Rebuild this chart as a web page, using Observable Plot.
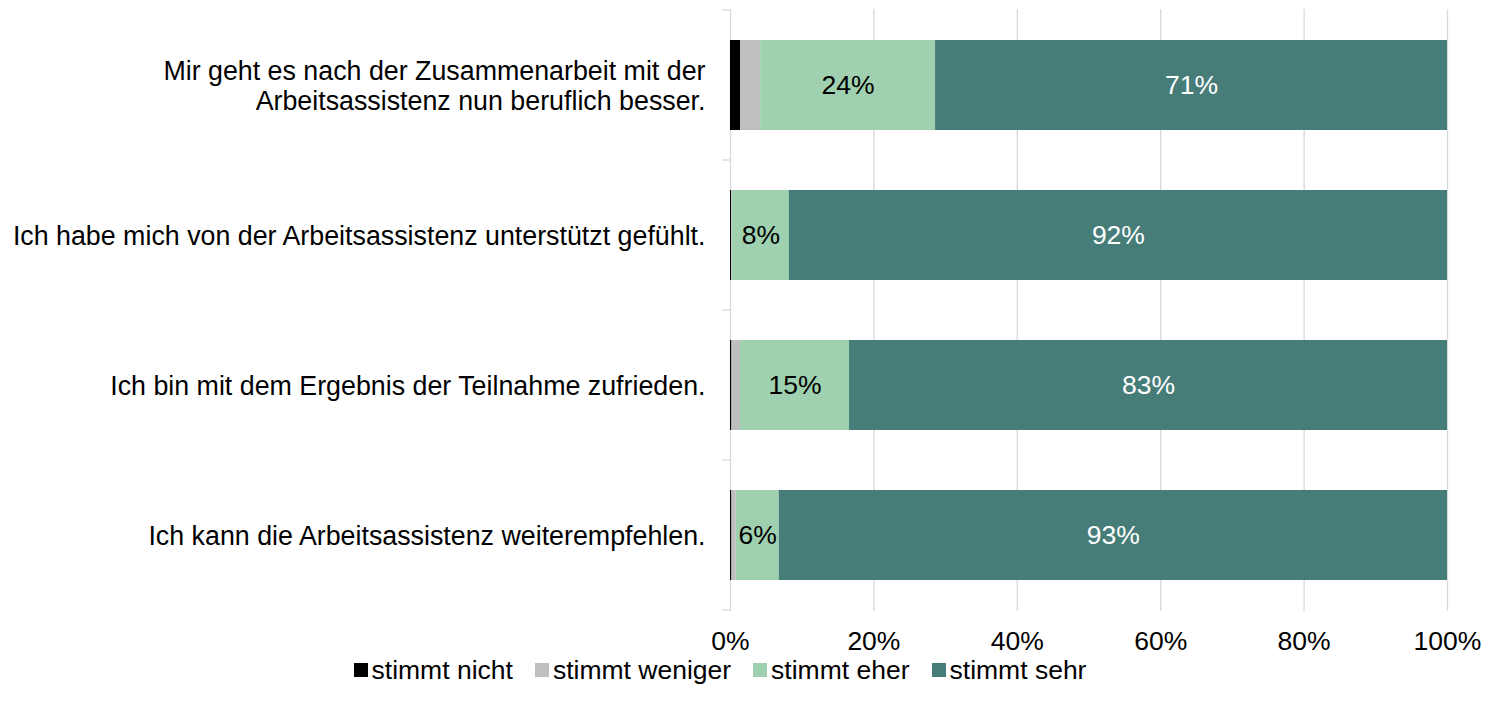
<!DOCTYPE html>
<html><head><meta charset="utf-8">
<script src="https://cdn.jsdelivr.net/npm/d3@7"></script>
<script src="https://cdn.jsdelivr.net/npm/@observablehq/plot@0.6"></script>
<style>
body{margin:0;background:#fff;font-family:"Liberation Sans",Arial,sans-serif;}
#chart svg{display:block}
#legend{display:flex;justify-content:center;gap:22px;font-size:26.5px;line-height:28px;height:28px;color:#000;padding-right:50px;}
.item{display:flex;align-items:center;gap:4px}
.sw{width:14px;height:14px;display:inline-block}
</style></head><body><div id="chart"></div><div id="legend"></div>
<script>
const questions = [
  "Mir geht es nach der Zusammenarbeit mit der\nArbeitsassistenz nun beruflich besser.",
  "Ich habe mich von der Arbeitsassistenz unterstützt gefühlt.",
  "Ich bin mit dem Ergebnis der Teilnahme zufrieden.",
  "Ich kann die Arbeitsassistenz weiterempfehlen."
];
const categories = ["stimmt nicht", "stimmt weniger", "stimmt eher", "stimmt sehr"];
const colors = ["#000000", "#bfbfbf", "#9fd0b0", "#477d79"];
const stimmtNicht   = [1.4, 0.15, 0.2, 0.2];
const stimmtWeniger = [2.8, 0.15, 1.2, 0.6];
const stimmtEher    = [24.4, 7.9, 15.2, 6.0];
const stimmtSehr    = [71.4, 91.8, 83.4, 93.2];
const xTicks = [0, 20, 40, 60, 80, 100];

const series = [stimmtNicht, stimmtWeniger, stimmtEher, stimmtSehr];
const data = [];
questions.forEach((q, i) => categories.forEach((c, j) => data.push({q, cat: c, value: series[j][i]})));

function bandTicks(index, scales, values, dims) {
  const y = scales.y;
  const bw = y.bandwidth();
  const step = y.step ? y.step() : bw / 0.6;
  const g = d3.create("svg:g").attr("stroke", "#d9d9d9").attr("stroke-width", 1.3);
  const x0 = dims.marginLeft;
  const ys = questions.map(q => y(q) + bw / 2 - step / 2);
  ys.push(y(questions[questions.length - 1]) + bw / 2 + step / 2);
  for (const yy of ys) g.append("line").attr("x1", x0 - 8).attr("x2", x0).attr("y1", yy).attr("y2", yy);
  return g.node();
}

const font = "26.5px";
const chart = Plot.plot({
  width: 1490, height: 656,
  marginLeft: 730, marginRight: 43, marginTop: 9, marginBottom: 45,
  style: {fontFamily: "'Liberation Sans', Arial, sans-serif", fontSize: font, color: "#000", background: "#fff"},
  x: {domain: [0, 100]},
  y: {domain: questions, paddingInner: 0.4, paddingOuter: 0.2},
  color: {domain: categories, range: colors},
  marks: [
    Plot.gridX(xTicks.filter(t => t > 0), {stroke: "#d9d9d9", strokeOpacity: 1, strokeWidth: 1.3}),
    Plot.ruleX([0], {stroke: "#d9d9d9", strokeWidth: 1.3}),
    bandTicks,
    Plot.barX(data, Plot.stackX({x: "value", y: "q", fill: "cat"})),
    Plot.text(data, Plot.stackX({x: "value", y: "q", z: "cat",
      text: d => d.cat === "stimmt eher" ? Math.round(d.value) + "%" : null,
      fill: "black", fontSize: 26.5})),
    Plot.text(data, Plot.stackX({x: "value", y: "q", z: "cat",
      text: d => d.cat === "stimmt sehr" ? Math.round(d.value) + "%" : null,
      fill: "white", fontSize: 26.5})),
    Plot.axisX(xTicks, {tickSize: 0, tickPadding: 20, tickFormat: d => d + "%", label: null, fontSize: 26.5}),
    Plot.axisY({tickSize: 0, tickPadding: 25, label: null, lineHeight: 1.13, fontSize: 26.8})
  ]
});
document.getElementById("chart").appendChild(chart);

const legend = document.getElementById("legend");
categories.forEach((c, i) => {
  const item = document.createElement("div");
  item.className = "item";
  const sw = document.createElement("span");
  sw.className = "sw";
  sw.style.background = colors[i];
  const t = document.createElement("span");
  t.textContent = c;
  item.appendChild(sw); item.appendChild(t);
  legend.appendChild(item);
});
</script></body></html>
